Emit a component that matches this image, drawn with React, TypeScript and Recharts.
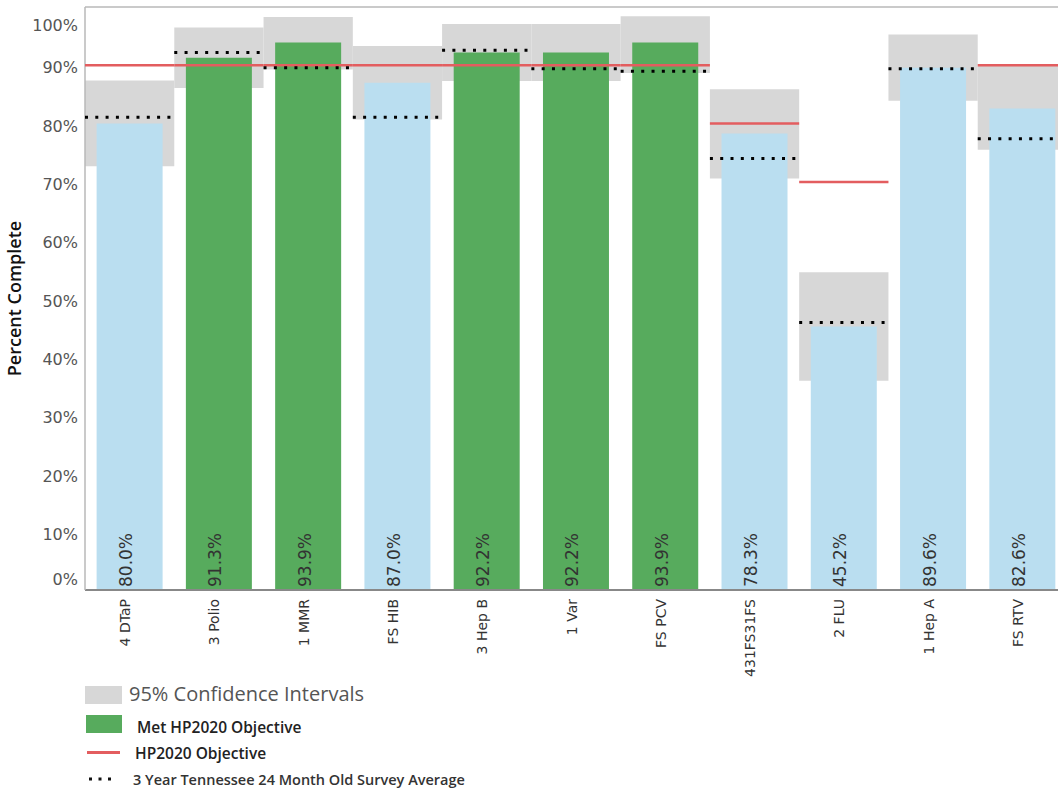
import React from "react";
import {
  ComposedChart,
  Bar,
  Cell,
  XAxis,
  YAxis,
  ReferenceArea,
  ReferenceLine,
  LabelList,
} from "recharts";

const categories = [
  "4 DTaP",
  "3 Polio",
  "1 MMR",
  "FS HIB",
  "3 Hep B",
  "1 Var",
  "FS PCV",
  "431FS31FS",
  "2 FLU",
  "1 Hep A",
  "FS RTV",
];
const coverage = [80.0, 91.3, 93.9, 87.0, 92.2, 92.2, 93.9, 78.3, 45.2, 89.6, 82.6];
const ciLow = [72.7, 86.1, 89.3, 80.7, 87.3, 87.3, 88.7, 70.6, 35.9, 83.9, 75.5];
const ciHigh = [87.4, 96.5, 98.3, 93.3, 97.1, 97.1, 98.4, 85.9, 54.5, 95.3, 89.9];
const surveyAvg = [81.1, 92.2, 89.6, 81.1, 92.6, 89.4, 89.0, 74.0, 45.9, 89.4, 77.4];
const objective: (number | null)[] = [90, 90, 90, 90, 90, 90, 90, 80, 70, null, 90];
const yTicks = [0, 10, 20, 30, 40, 50, 60, 70, 80, 90, 100];

const GREEN = "#57ab5d";
const BLUE = "#badef0";
const GRAY = "#d7d7d7";
const RED = "#e35d5f";

const data = categories.map((name, i) => ({
  name,
  coverage: coverage[i],
  met: objective[i] != null && coverage[i] >= (objective[i] as number),
}));

const YTick = (props: any) => {
  const { x, y, payload } = props;
  const v = payload.value;
  // end labels are pulled inside the plot, like the original
  const dy = v === 100 ? 16 : v === 0 ? -11 : 2.5;
  return (
    <text x={x + 1} y={y + dy} dy="0.35em" textAnchor="end" fontSize={16} fill="#555">
      {v}%
    </text>
  );
};

const XTick = (props: any) => {
  const { x, y, payload } = props;
  return (
    <text
      transform={`translate(${x + 0.5},${y + 1}) rotate(-90)`}
      textAnchor="end"
      fontSize={14}
      fill="#333"
    >
      {payload.value}
    </text>
  );
};

const ValueLabel = (props: any) => {
  const vb = props.viewBox ?? props;
  const x = props.x ?? vb.x;
  const y = props.y ?? vb.y;
  const width = props.width ?? vb.width;
  const height = props.height ?? vb.height;
  return (
    <text
      transform={`translate(${x + width / 2 + 2.5},${y + height - 3}) rotate(-90)`}
      fontSize={17}
      fill="#333"
    >
      {Number(props.value).toFixed(1)}%
    </text>
  );
};

const redSegment = (p: any) => (
  <line x1={p.x} x2={p.x + p.width} y1={p.y} y2={p.y} stroke={RED} strokeWidth={2.5} />
);

const dotSegment = (p: any) => (
  <line
    x1={p.x}
    x2={p.x + p.width}
    y1={p.y}
    y2={p.y}
    stroke="#000"
    strokeWidth={3}
    strokeDasharray="3 7.3"
  />
);

function Legend() {
  const text = {
    position: "absolute" as const,
    fontFamily: "'Open Sans', sans-serif",
    whiteSpace: "nowrap" as const,
  };
  return (
    <>
      <div style={{ position: "absolute", left: 85, top: 686, width: 37, height: 18, background: GRAY }} />
      <div style={{ ...text, left: 129, top: 680, fontSize: 20, color: "#555" }}>
        95% Confidence Intervals
      </div>
      <div style={{ position: "absolute", left: 86, top: 715, width: 36, height: 18, background: GREEN }} />
      <div style={{ ...text, left: 137, top: 716, fontSize: 15.5, fontWeight: 600, color: "#222" }}>
        Met HP2020 Objective
      </div>
      <div style={{ position: "absolute", left: 87, top: 751, width: 33, height: 2.5, background: RED }} />
      <div style={{ ...text, left: 135, top: 742, fontSize: 15.5, fontWeight: 600, color: "#222" }}>
        HP2020 Objective
      </div>
      <svg style={{ position: "absolute", left: 86, top: 775 }} width={32} height={8}>
        {[0, 1, 2].map((k) => (
          <rect key={k} x={3 + k * 9.5} y={2.5} width={3} height={3} fill="#111" />
        ))}
      </svg>
      <div style={{ ...text, left: 133, top: 769.5, fontSize: 14.5, fontWeight: 600, color: "#333" }}>
        3 Year Tennessee 24 Month Old Survey Average
      </div>
    </>
  );
}

export default function App() {
  return (
    <div
      style={{
        position: "absolute",
        left: 0,
        top: 0,
        width: 1058,
        height: 791,
        overflow: "hidden",
        background: "#fff",
        fontFamily: "'DejaVu Sans', sans-serif",
      }}
    >
      <ComposedChart
        width={1070}
        height={680}
        data={data}
        margin={{ top: 7, right: 3, bottom: 0, left: 0 }}
        barCategoryGap="13%"
      >
        <XAxis
          dataKey="name"
          interval={0}
          height={90}
          tickLine={false}
          axisLine={{ stroke: "#888", strokeWidth: 2 }}
          tick={<XTick />}
        />
        <YAxis
          width={85}
          domain={[0, 100]}
          ticks={yTicks}
          tickLine={false}
          axisLine={{ stroke: "#b8b8b8", strokeWidth: 1.5 }}
          tick={<YTick />}
          label={{
            value: "Percent Complete",
            angle: -90,
            position: "insideLeft",
            dx: 10,
            dy: 0,
            style: {
              fontFamily: "'Open Sans', sans-serif",
              fontWeight: 600,
              fontSize: 18,
              fill: "#111",
              textAnchor: "middle",
            },
          }}
        />
        <ReferenceLine y={100} stroke="#b8b8b8" strokeWidth={1.5} ifOverflow="visible" />
        {categories.map((c, i) => (
          <ReferenceArea
            key={`ci-${c}`}
            x1={c}
            x2={c}
            y1={ciLow[i]}
            y2={ciHigh[i]}
            fill={GRAY}
            fillOpacity={1}
            stroke="none"
            ifOverflow="visible"
          />
        ))}
        <Bar dataKey="coverage" isAnimationActive={false}>
          {data.map((d) => (
            <Cell key={d.name} fill={d.met ? GREEN : BLUE} />
          ))}
          <LabelList dataKey="coverage" content={<ValueLabel />} />
        </Bar>
        {categories.map((c, i) =>
          objective[i] == null ? null : (
            <ReferenceArea
              key={`obj-${c}`}
              x1={c}
              x2={c}
              y1={objective[i] as number}
              y2={objective[i] as number}
              ifOverflow="visible"
              shape={redSegment}
              zIndex={600}
            />
          )
        )}
        {categories.map((c, i) => (
          <ReferenceArea
            key={`avg-${c}`}
            x1={c}
            x2={c}
            y1={surveyAvg[i]}
            y2={surveyAvg[i]}
            ifOverflow="visible"
            shape={dotSegment}
            zIndex={650}
          />
        ))}
      </ComposedChart>
      <Legend />
    </div>
  );
}
